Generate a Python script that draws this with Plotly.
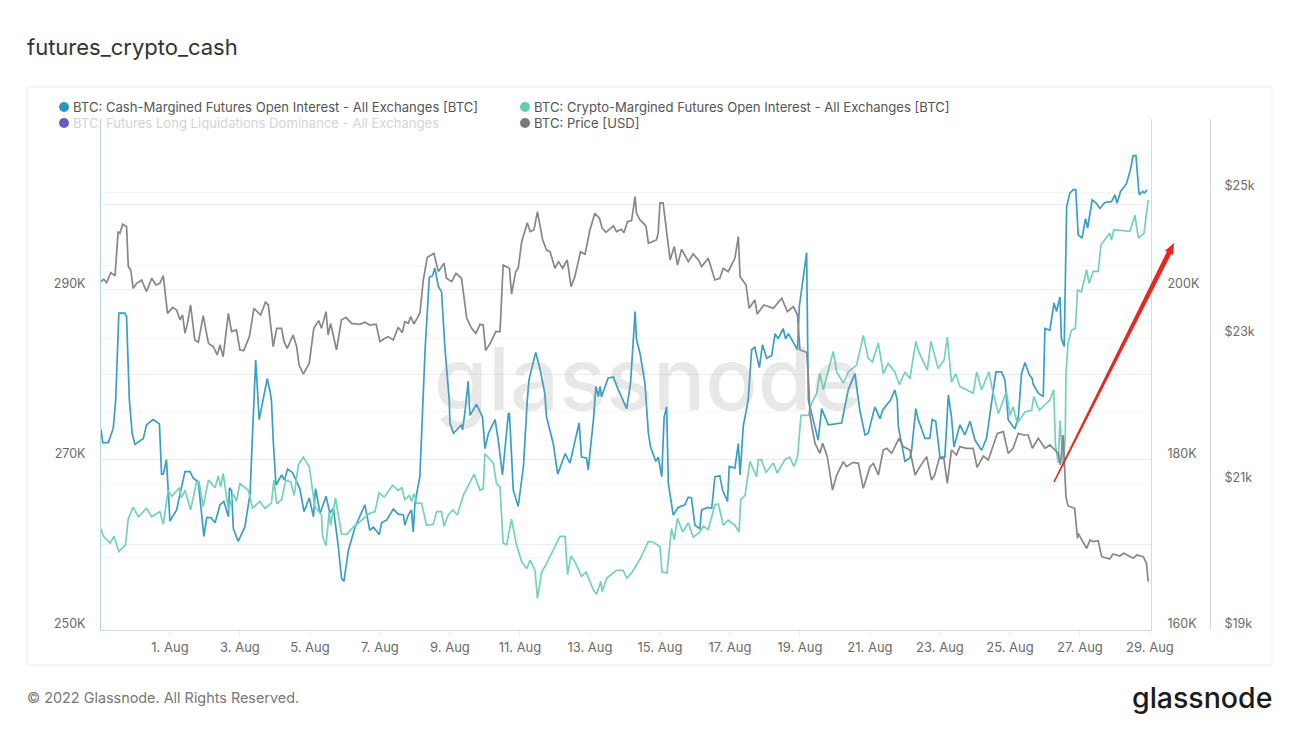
import numpy as np
import pandas as pd
import plotly.graph_objects as go

# values; days counted from the start of August 2022 (1.0 = 1 Aug)
price_days = [-0.97,-0.89,-0.81,-0.69,-0.57,-0.48,-0.43,-0.35,-0.24,-0.19,-0.12,-0.05,0.05,0.19,0.33,0.48,0.6,0.71,0.81,0.93,
    1.08,1.19,1.29,1.36,1.43,1.5,1.59,1.71,1.81,1.95,2.1,2.24,2.35,2.43,2.52,2.6,2.67,2.76,2.9,3.0,
    3.11,3.27,3.4,3.59,3.73,3.81,3.95,4.05,4.19,4.26,4.35,4.52,4.62,4.69,4.81,4.98,5.11,5.25,5.33,5.46,
    5.52,5.59,5.76,5.9,6.03,6.19,6.43,6.57,6.71,6.89,7.0,7.14,7.24,7.38,7.52,7.64,7.71,7.81,7.88,7.97,
    8.14,8.24,8.35,8.54,8.67,8.83,8.9,9.05,9.17,9.33,9.48,9.62,9.74,9.86,9.95,10.02,10.16,10.31,10.43,10.52,
    10.7,10.76,10.88,10.95,11.05,11.21,11.29,11.4,11.5,11.65,11.76,11.86,12.0,12.1,12.22,12.35,12.46,12.57,12.73,12.86,
    13.0,13.14,13.27,13.35,13.46,13.67,13.76,13.9,13.97,14.07,14.19,14.29,14.33,14.43,14.6,14.67,14.9,14.95,15.0,15.09,
    15.24,15.29,15.41,15.5,15.62,15.81,15.95,16.1,16.19,16.38,16.57,16.71,16.81,16.95,17.14,17.24,17.29,17.46,17.55,17.71,
    17.78,17.97,18.24,18.48,18.64,18.81,18.93,19.0,19.19,19.24,19.29,19.43,19.57,19.65,19.78,19.93,20.05,20.24,20.33,20.52,
    20.67,20.81,21.0,21.1,21.24,21.38,21.48,21.62,21.83,21.95,22.14,22.29,22.43,22.62,22.76,22.85,22.98,23.11,23.21,23.33,
    23.47,23.57,23.76,23.95,24.06,24.24,24.38,24.52,24.64,24.81,24.95,25.09,25.24,25.38,25.52,25.64,25.81,26.0,26.14,26.38,
    26.44,26.52,26.6,26.66,26.85,26.93,26.95,27.19,27.29,27.38,27.52,27.62,27.85,27.95,28.14,28.25,28.52,28.62,28.81,28.9,28.95]
price_usd = [23772,23804,23758,23895,23850,24457,24434,24558,24526,23978,23932,23681,23749,23795,23635,23818,23726,23749,23854,23338,
    23420,23384,23247,23315,23064,23201,23452,22973,22941,23306,22927,22881,22767,22904,22744,23041,23338,23087,23110,22836,
    22827,23019,23407,23315,23489,23452,22881,23133,23133,22950,22859,23041,22881,22630,22507,22653,23133,23238,23133,23361,
    23041,23201,22836,23247,23283,23201,23188,23215,23178,23188,22950,22996,23019,22973,23146,23073,23224,23201,23293,23192,
    23338,23795,24101,24160,23909,24023,23818,23772,23886,23818,23270,23133,23064,23188,23178,22827,22936,23087,23087,24000,
    23955,23603,23909,23955,24320,24580,24457,24480,24731,24343,24206,24183,23955,24046,23955,24069,23704,23841,24183,24147,
    24480,24708,24640,24503,24448,24535,24457,24489,24443,24594,24608,24937,24708,24617,24535,24297,24343,24434,24850,24850,
    24206,24069,24252,24000,24215,24046,24151,24069,23978,24092,23795,23818,23955,23909,24092,24389,23841,23726,23407,23521,
    23329,23452,23407,23544,23361,23430,23315,22836,22804,22470,21923,21557,21420,21557,21375,20918,21123,21306,21238,21297,
    21283,20941,21238,21283,21123,21466,21489,21420,21626,21512,21466,21123,21238,21375,21055,21123,21352,21352,21009,21466,
    21397,21512,21489,21489,21228,21384,21329,21512,21694,21717,21420,21489,21694,21671,21671,21489,21626,21489,21535,21420,
    21260,21671,20827,20699,20667,20256,20324,20119,20233,20210,20224,20005,19973,20041,20014,20050,19982,20027,20005,19913,19662]

cash_days = [-0.97,-0.92,-0.76,-0.62,-0.55,-0.46,-0.29,-0.24,-0.16,-0.14,-0.08,0.0,0.24,0.33,0.52,0.7,0.76,0.81,0.9,1.0,
    1.19,1.29,1.43,1.57,1.67,1.81,1.97,2.05,2.17,2.29,2.43,2.54,2.67,2.7,2.76,2.81,2.95,3.14,3.29,3.36,
    3.4,3.45,3.55,3.67,3.78,3.86,3.9,3.95,4.03,4.19,4.27,4.36,4.5,4.71,4.83,4.98,5.1,5.16,5.29,5.46,
    5.57,5.67,5.81,5.9,5.97,6.1,6.29,6.57,6.71,6.81,6.98,7.05,7.19,7.38,7.52,7.67,7.71,7.81,7.9,7.95,
    8.0,8.14,8.22,8.29,8.41,8.5,8.57,8.67,8.76,8.86,8.98,9.0,9.1,9.33,9.36,9.43,9.52,9.57,9.76,9.93,
    10.0,10.1,10.29,10.38,10.5,10.67,10.7,10.81,10.95,11.1,11.21,11.26,11.45,11.57,11.71,11.76,11.95,12.08,12.29,12.43,
    12.69,12.76,12.9,12.95,13.1,13.17,13.24,13.29,13.33,13.52,13.67,13.81,14.05,14.16,14.29,14.33,14.43,14.57,14.67,14.73,
    14.88,14.95,15.05,15.12,15.19,15.24,15.38,15.52,15.71,15.81,15.9,16.0,16.14,16.19,16.38,16.48,16.57,16.71,16.79,16.93,
    16.98,17.14,17.24,17.29,17.38,17.52,17.62,17.71,17.84,17.93,18.05,18.19,18.29,18.38,18.52,18.59,18.67,18.81,18.93,18.98,
    19.19,19.24,19.29,19.52,19.62,19.81,20.19,20.33,20.38,20.57,20.71,20.86,20.95,21.14,21.29,21.36,21.59,21.71,21.78,21.81,
    22.0,22.14,22.19,22.31,22.38,22.57,22.71,22.78,22.88,23.0,23.14,23.24,23.33,23.4,23.57,23.71,23.86,24.0,24.19,24.33,
    24.6,24.76,24.86,24.95,25.14,25.24,25.33,25.43,25.55,25.64,25.66,25.81,25.95,26.0,26.14,26.26,26.33,26.43,26.47,26.55,
    26.62,26.71,26.81,26.88,26.95,27.06,27.16,27.22,27.35,27.47,27.57,27.71,27.9,28.0,28.06,28.16,28.33,28.44,28.52,28.6,
    28.69,28.79,28.84,28.92]
cash_oi = [273.5,272.0,272.0,273.7,277.0,287.2,287.2,286.8,277.0,275.8,273.1,271.8,272.5,274.1,274.7,274.2,268.3,268.3,270.0,262.8,
    264.1,266.0,268.6,268.6,267.8,267.4,261.0,263.2,263.2,262.6,264.7,265.1,263.3,266.7,266.4,261.9,260.4,262.1,266.0,273.1,
    277.0,281.7,274.7,277.0,279.5,278.0,277.0,272.3,267.0,268.2,267.6,268.9,268.5,266.6,263.9,265.5,263.3,266.6,263.7,265.7,
    263.7,264.3,259.8,256.1,255.7,259.4,262.1,264.7,261.7,262.1,261.2,262.6,262.9,264.2,263.6,263.5,262.3,263.5,264.1,261.5,
    264.9,268.0,277.0,282.9,291.4,291.6,292.5,290.3,289.7,282.9,277.0,274.3,273.1,274.1,273.5,275.6,279.2,275.2,276.5,275.0,
    271.3,273.1,274.7,272.3,268.2,275.4,275.4,266.4,264.5,269.2,277.0,279.4,282.6,280.7,277.8,275.0,271.9,268.3,270.7,269.6,
    274.3,270.3,270.2,268.8,274.7,278.6,277.4,278.6,277.4,279.6,279.7,278.2,276.0,279.0,287.4,284.1,282.5,279.0,273.1,271.5,
    269.8,270.3,268.0,275.0,276.2,267.2,263.5,264.4,264.7,265.6,265.5,262.3,261.9,264.1,264.4,264.3,268.0,268.1,266.4,265.1,
    269.2,269.0,271.9,268.2,273.9,277.0,282.9,283.2,280.8,283.5,281.9,282.2,284.8,284.2,285.4,284.2,284.8,283.7,282.9,287.9,
    294.3,277.0,276.2,272.3,276.0,274.1,274.3,277.0,278.2,280.1,275.8,272.9,273.1,276.2,274.8,275.8,277.0,278.2,277.0,273.9,
    269.8,270.2,271.1,276.0,274.7,272.5,272.5,274.7,274.5,270.3,270.3,277.6,275.0,271.5,274.1,272.9,274.5,272.3,271.1,272.5,
    280.3,280.3,279.3,274.7,273.6,275.0,280.1,281.4,280.0,279.5,278.9,277.8,277.4,285.4,285.2,288.4,287.4,289.1,284.2,283.3,
    299.7,301.3,301.7,301.7,296.4,296.0,298.3,297.2,300.5,300.1,299.5,300.2,300.3,301.1,300.1,301.5,302.4,304.0,305.7,305.7,
    301.1,301.5,301.3,301.7]

crypto_days = [-0.97,-0.9,-0.71,-0.6,-0.46,-0.27,-0.19,-0.05,0.1,0.33,0.48,0.71,0.81,0.95,1.05,1.27,1.33,1.43,1.59,1.76,
    1.83,1.95,2.1,2.29,2.38,2.45,2.52,2.67,2.81,2.9,3.0,3.24,3.36,3.57,3.71,3.9,3.97,4.05,4.19,4.31,
    4.45,4.55,4.67,4.81,4.98,5.14,5.33,5.36,5.46,5.55,5.59,5.73,5.9,6.05,6.19,6.57,6.71,6.86,6.97,7.12,
    7.36,7.52,7.62,7.71,7.84,7.9,7.97,8.05,8.19,8.33,8.52,8.62,8.76,8.83,8.95,9.08,9.21,9.38,9.69,9.86,
    9.95,10.0,10.24,10.33,10.43,10.52,10.62,10.76,10.9,11.05,11.19,11.29,11.43,11.5,11.62,11.76,12.05,12.14,12.29,12.36,
    12.46,12.57,12.76,12.89,13.1,13.19,13.31,13.35,13.48,13.76,13.95,14.05,14.19,14.43,14.67,14.81,15.0,15.06,15.2,15.33,
    15.41,15.5,15.65,15.81,15.95,16.14,16.24,16.38,16.57,16.67,16.81,16.95,17.14,17.26,17.31,17.43,17.57,17.76,17.81,17.9,
    18.03,18.24,18.35,18.57,18.7,18.83,18.93,19.03,19.24,19.33,19.48,19.57,19.67,19.95,20.05,20.24,20.38,20.62,20.81,20.95,
    21.07,21.24,21.38,21.52,21.71,21.84,22.0,22.14,22.31,22.41,22.64,22.74,22.95,23.12,23.21,23.33,23.45,23.57,23.95,24.05,
    24.19,24.29,24.4,24.5,24.67,24.9,25.0,25.09,25.21,25.43,25.62,25.68,25.84,26.14,26.25,26.3,26.38,26.43,26.52,26.58,
    26.6,26.66,26.76,26.87,26.93,27.04,27.19,27.26,27.38,27.52,27.6,27.85,27.9,27.97,28.14,28.43,28.57,28.67,28.83,28.95]
crypto_oi = [171.9,171.0,170.2,171.0,169.2,170.0,173.1,174.4,173.3,174.3,173.3,173.9,172.4,176.4,175.7,176.7,175.5,176.4,174.1,177.4,
    177.4,174.5,177.6,176.7,178.1,176.8,178.4,174.1,176.0,175.1,177.2,176.4,174.3,175.1,174.3,174.9,177.6,174.8,175.3,177.6,
    177.4,175.8,179.4,180.3,179.2,174.5,173.5,171.0,169.9,173.9,172.3,175.5,171.3,171.2,171.9,173.3,173.7,173.9,176.1,175.6,
    177.0,176.4,176.7,175.3,175.8,175.1,176.0,174.9,174.9,172.3,172.4,173.9,173.9,172.2,173.5,174.1,173.5,175.8,178.3,176.4,
    176.6,180.7,179.6,177.2,176.8,170.2,170.0,173.0,170.0,168.0,167.2,168.2,167.0,163.7,166.8,167.8,170.4,171.0,171.0,166.5,
    168.7,168.0,166.3,166.8,164.7,164.2,165.7,164.5,166.1,167.0,167.0,166.1,166.7,168.3,170.4,170.3,169.8,166.8,166.7,171.9,
    170.6,173.1,171.5,172.6,170.9,171.5,172.2,171.8,174.7,174.8,172.3,172.9,172.3,171.5,175.3,175.8,179.8,178.0,180.0,180.0,
    178.5,179.6,178.4,180.0,180.3,179.2,180.3,185.2,185.2,186.6,187.8,190.1,188.2,192.7,190.3,189.0,190.3,191.1,194.6,191.9,
    191.5,193.7,190.1,191.3,190.3,188.8,190.3,189.5,193.9,192.5,190.5,193.9,190.7,191.7,194.4,189.1,190.1,188.6,187.8,190.3,
    188.2,189.3,190.3,188.2,185.4,188.0,185.2,186.2,184.3,185.6,185.8,187.4,185.8,187.0,188.2,181.7,179.6,184.6,179.2,182.7,
    190.1,193.7,195.2,195.4,199.9,199.7,202.3,200.7,202.1,202.1,205.2,206.6,205.8,207.0,206.9,206.8,208.7,206.0,206.6,210.5]

cash_ticks = [250, 270, 290]
crypto_ticks = [160, 180, 200]
price_ticks = [19000, 21000, 23000, 25000]
legend_names = ["BTC: Cash-Margined Futures Open Interest - All Exchanges [BTC]",
                "BTC: Crypto-Margined Futures Open Interest - All Exchanges [BTC]",
                "BTC: Futures Long Liquidations Dominance - All Exchanges",
                "BTC: Price [USD]"]
legend_colors = ["#2a97c0", "#62cdb5", "#6a57c8", "#7d747f"]

BLUE, GREEN, GRAY = "#3a9fc4", "#74d2bb", "#8a858c"
FONT = "Inter"


def to_dates(days):
    return pd.Timestamp("2022-08-01") + pd.to_timedelta(np.array(days, dtype=float) - 1, unit="D")


# page pixels -> paper coords, only for the frame, legend and arrow decoration
W, H = 1299, 731
L, R, T, B = 101, 45, 119, 101
PW, PH = W - L - R, H - T - B


def px(x):
    return (x - L) / PW


def py(y):
    return (H - B - y) / PH


fig = go.Figure()
fig.add_trace(go.Scatter(x=to_dates(cash_days), y=cash_oi, mode="lines", yaxis="y", line=dict(color=BLUE, width=1.7)))
fig.add_trace(go.Scatter(x=to_dates(crypto_days), y=crypto_oi, mode="lines", yaxis="y2", line=dict(color=GREEN, width=1.7)))
fig.add_trace(go.Scatter(x=to_dates(price_days), y=price_usd, mode="lines", yaxis="y3", line=dict(color=GRAY, width=1.7)))

x_font = dict(family=FONT, size=13, color="#6b6b6b")
y_font = dict(family=FONT, size=12.5, color="#6b6b6b")

shapes = [dict(type="rect", xref="paper", yref="paper", x0=px(27), x1=px(1272), y0=py(665), y1=py(87),
               line=dict(color="#ebebeb", width=1), fillcolor="rgba(0,0,0,0)", layer="below")]
annotations = [
    dict(text="glassnode", x=px(648), y=py(378), xanchor="center",
         font=dict(family=FONT, size=87, weight=500, color="rgba(150,150,150,0.22)")),
    dict(text="© 2022 Glassnode. All Rights Reserved.", x=px(25), y=py(698), xanchor="left",
         font=dict(family=FONT, size=14.4, color="#777777")),
    dict(text="glassnode", x=px(1274), y=py(697), xanchor="right",
         font=dict(family=FONT, size=28.5, weight=500, color="#1c1c1c")),
]

# legend is two hand placed columns, the dominance series has no line and greyed text
for i, name in enumerate(legend_names):
    col_x = [64, 525][i % 2]
    row_y = [107, 123][i // 2]
    shapes.append(dict(type="circle", xref="paper", yref="paper", x0=px(col_x - 5), x1=px(col_x + 5),
                       y0=py(row_y + 5), y1=py(row_y - 5), fillcolor=legend_colors[i], line=dict(width=0)))
    annotations.append(dict(text=name, x=px(col_x + 6.5), y=py(row_y), xanchor="left",
                            font=dict(family=FONT, size=13.1, color="#d4d4d4" if i == 2 else "#555555")))

# red arrow drawn on top of the screenshot, tapers towards the tail
tail = np.array([1054.0, 482.0])
tip = np.array([1174.0, 243.0])
u = (tip - tail) / np.linalg.norm(tip - tail)
n = np.array([-u[1], u[0]])
neck = tip - u * 11
pts = [tail + n * 0.8, neck + n * 2.5, neck + n * 4.5, tip, neck - n * 4.5, neck - n * 2.5, tail - n * 0.8]
path = "M " + " L ".join(f"{px(p[0])},{py(p[1])}" for p in pts) + " Z"
shapes.append(dict(type="path", xref="paper", yref="paper", path=path, fillcolor="#e8281e", line=dict(width=0)))

for a in annotations:
    a.update(xref="paper", yref="paper", showarrow=False, yanchor="middle")

fig.update_layout(
    width=W, height=H, autosize=False,
    margin=dict(l=L, r=R, t=T, b=B),
    plot_bgcolor="white", paper_bgcolor="white",
    showlegend=False,
    title=dict(text="futures_crypto_cash", x=27 / W, xref="container", xanchor="left",
               y=1 - 47 / H, yref="container", yanchor="middle",
               font=dict(family=FONT, size=22, color="#333333")),
    xaxis=dict(domain=[0, 1050 / PW], type="date",
               range=[to_dates([-0.97])[0], to_dates([29.03])[0]],
               tick0="2022-08-01", dtick=2 * 86400000, tickformat="%-d. %b",
               showgrid=False, showline=True, linecolor="#d5dbdf", linewidth=1,
               ticks="outside", ticklen=5, tickcolor="#eceff1", tickfont=x_font),
    yaxis=dict(range=[250, 310], tickmode="array", tickvals=cash_ticks,
               ticktext=[f"{v}K" for v in cash_ticks], tickfont=y_font, ticklabelshift=-6,
               ticklabelstandoff=12, showline=True, linecolor="#a9d8e3", linewidth=1, zeroline=False,
               gridcolor="#ededed", gridwidth=1,
               minor=dict(dtick=10, showgrid=True, gridcolor="#ededed", gridwidth=1)),
    yaxis2=dict(range=[160, 220], overlaying="y", side="right", tickmode="array", tickvals=crypto_ticks,
                ticktext=[f"{v}K" for v in crypto_ticks], tickfont=y_font, ticklabelshift=-6,
                ticklabelstandoff=13, showline=True, linecolor="#bfe8dd", linewidth=1, showgrid=False, zeroline=False),
    yaxis3=dict(range=[19000, 26000], overlaying="y", side="right", anchor="free", position=(1210 - L) / PW,
                tickmode="array", tickvals=price_ticks,
                ticktext=[f"${v // 1000}k" for v in price_ticks], tickfont=y_font, ticklabelshift=-6,
                ticklabelstandoff=11, showline=True, linecolor="#d5d5d5", linewidth=1, zeroline=False,
                showgrid=False, minor=dict(dtick=1000, showgrid=True, gridcolor="#f6f6f6", gridwidth=1)),
    shapes=shapes,
    annotations=annotations,
)

fig.write_html("out.html", config=dict(displayModeBar=False), post_script="document.body.style.margin='0';")
